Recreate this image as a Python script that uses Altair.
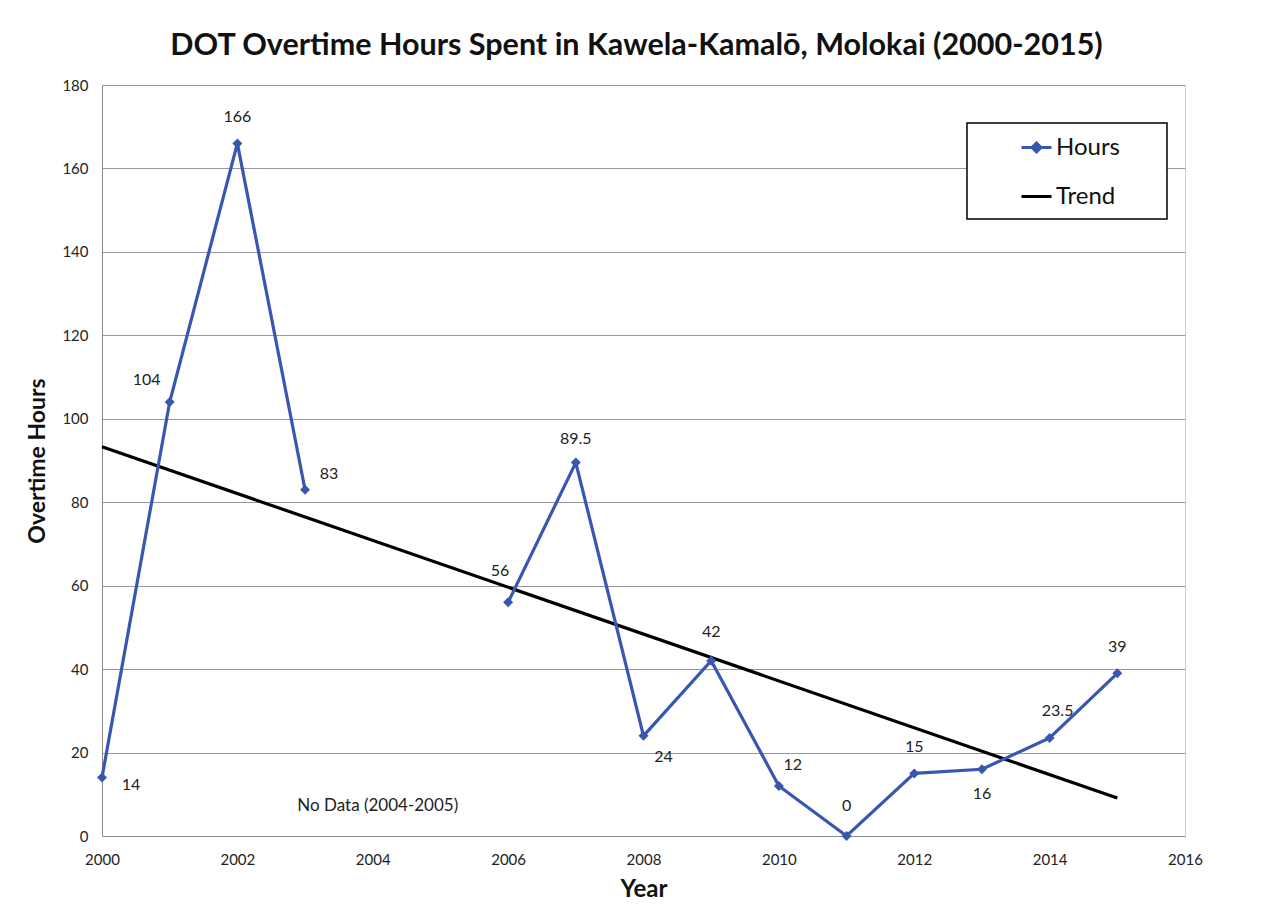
import altair as alt
import pandas as pd

# ---- data ----
years = [2000, 2001, 2002, 2003, 2006, 2007, 2008, 2009, 2010, 2011, 2012, 2013, 2014, 2015]
hours = [14, 104, 166, 83, 56, 89.5, 24, 42, 12, 0, 15, 16, 23.5, 39]
hour_labels = ["14", "104", "166", "83", "56", "89.5", "24", "42", "12", "0", "15", "16", "23.5", "39"]
trend_years = [2000, 2015]
trend_hours = [93.3, 9.1]
series_names = ["Hours", "Trend"]
note_text = ["No Data (2004-2005)"]
note_year = [2004]
note_value = [7.2]

# ---- styling ----
BLUE = "#3757b0"
FONT = "Lato"
label_offsets = {
    2000: (29, 7), 2001: (-23, -22), 2002: (0, -26), 2003: (24, -16),
    2006: (-8, -31), 2007: (0, -24), 2008: (20, 21), 2009: (0, -29),
    2010: (14, -21), 2011: (0, -30), 2012: (0, -26), 2013: (0, 25),
    2014: (8, -27), 2015: (0, -26),
}

df = pd.DataFrame({"year": years, "hours": hours, "label": hour_labels})
df["segment"] = ["a" if y < 2004 else "b" for y in years]
trend_df = pd.DataFrame({"year": trend_years, "hours": trend_hours})
legend_df = pd.DataFrame({"series": series_names})
note_df = pd.DataFrame({"year": note_year, "hours": note_value, "text": note_text})

x_scale = alt.Scale(domain=[2000, 2016], nice=False, zero=False)
y_scale = alt.Scale(domain=[0, 180], nice=False)

x_axis = alt.Axis(values=list(range(2000, 2017, 2)), format="d", grid=False, ticks=False,
                  labelFlush=False, domainColor="#8a8a8a", labelFontSize=15, labelPadding=16,
                  labelColor="#222", labelFont=FONT, title="Year", titleFont=FONT, titleFontSize=24,
                  titleFontWeight="bold", titlePadding=10, titleColor="#111")
y_axis = alt.Axis(values=list(range(0, 181, 20)), grid=True, gridColor="#a093a8", ticks=False,
                  labelFlush=False, domainColor="#8a8a8a", labelFontSize=15, labelPadding=14,
                  labelColor="#222", labelFont=FONT, title="Overtime Hours", titleFont=FONT,
                  titleFontSize=23, titleFontWeight="bold", titlePadding=12, titleColor="#111")

base = alt.Chart(df)

hours_line = base.mark_line(color=BLUE, strokeWidth=3.2).encode(
    x=alt.X("year:Q", scale=x_scale, axis=x_axis),
    y=alt.Y("hours:Q", scale=y_scale, axis=y_axis),
    detail="segment:N",
)
hours_pts = base.mark_point(shape="diamond", filled=True, size=100, color=BLUE, opacity=1).encode(
    x=alt.X("year:Q", scale=x_scale),
    y=alt.Y("hours:Q", scale=y_scale),
)
trend_line = alt.Chart(trend_df).mark_line(color="black", strokeWidth=3.2).encode(
    x=alt.X("year:Q", scale=x_scale),
    y=alt.Y("hours:Q", scale=y_scale),
)

texts = []
for yr, (dx, dy) in label_offsets.items():
    texts.append(
        base.mark_text(dx=dx, dy=dy, fontSize=16, font=FONT, color="#222", baseline="middle")
        .encode(x=alt.X("year:Q", scale=x_scale), y=alt.Y("hours:Q", scale=y_scale), text="label:N")
        .transform_filter(alt.datum.year == yr)
    )

note = alt.Chart(note_df).mark_text(fontSize=17, font=FONT, color="#222", dx=5, baseline="middle").encode(
    x=alt.X("year:Q", scale=x_scale), y=alt.Y("hours:Q", scale=y_scale), text="text:N"
)

legend_box = alt.Chart(pd.DataFrame({"series": ["box"]})).mark_rect(
    fill="white", stroke="black", strokeWidth=1.5
).encode(x=alt.value(865), x2=alt.value(1065), y=alt.value(38), y2=alt.value(134))

hours_symbol = "M-1,0H1M0,-0.3L0.3,0L0,0.3L-0.3,0Z"
trend_symbol = "M-1,0H1"
legend_layer = alt.Chart(legend_df).mark_point(clip=True, filled=False, opacity=1).encode(
    x=alt.value(-60), y=alt.value(-60),
    shape=alt.Shape("series:N", scale=alt.Scale(domain=series_names, range=[hours_symbol, trend_symbol]), title=None),
    stroke=alt.Stroke("series:N", scale=alt.Scale(domain=series_names, range=[BLUE, "black"]), title=None),
    fill=alt.Fill("series:N", scale=alt.Scale(domain=series_names, range=[BLUE, "black"]), title=None),
)

chart = alt.layer(
    legend_box, trend_line, hours_line, hours_pts, *texts, note, legend_layer
).properties(
    width=1083, height=751,
    background="white",
    autosize=alt.AutoSizeParams(type="none"),
    padding={"left": 94, "top": 77, "right": 78, "bottom": 70},
    title=alt.TitleParams(
        "DOT Overtime Hours Spent in Kawela-Kamalō, Molokai (2000-2015)",
        font=FONT, fontSize=30.5, fontWeight="bold", color="#111", anchor="middle",
        offset=17, dx=-7,
    ),
).configure_view(
    stroke="#cfcfd6", strokeWidth=1
).configure_legend(
    orient="none", legendX=918, legendY=46, padding=0, symbolSize=900,
    symbolStrokeWidth=3, symbolOpacity=1, labelFontSize=24, labelFont=FONT, labelColor="#111",
    labelOffset=3, rowPadding=20
)

chart.save("out.html", embed_options={"renderer": "svg", "actions": False})
